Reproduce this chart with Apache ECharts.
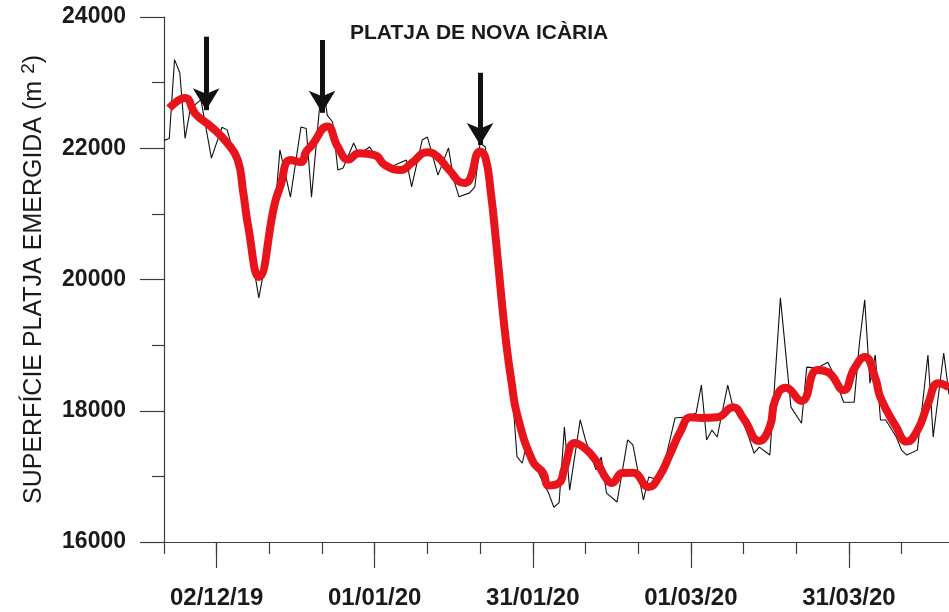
<!DOCTYPE html>
<html>
<head>
<meta charset="utf-8">
<script src="https://cdn.jsdelivr.net/npm/echarts@6/dist/echarts.min.js"></script>
<style>
  html, body { margin: 0; padding: 0; background: #fff; }
  #chart { width: 949px; height: 612px; }
</style>
</head>
<body>
<div id="chart"></div>
<script>
// eixos
const firstDay = '2019-11-22'
const lastDay = '2020-04-19'
const majorDates = ['2019-12-02', '2020-01-01', '2020-01-31', '2020-03-01', '2020-03-31']
const tickLabels = ['02/12/19', '01/01/20', '31/01/20', '01/03/20', '31/03/20']

// superficie diaria (linia negra)
const rawDates = [
  '2019-11-22', '2019-11-23', '2019-11-24', '2019-11-25', '2019-11-26', '2019-11-27', '2019-11-29',
  '2019-12-01', '2019-12-03', '2019-12-04', '2019-12-05', '2019-12-06', '2019-12-07', '2019-12-08',
  '2019-12-09', '2019-12-10', '2019-12-11', '2019-12-12', '2019-12-13', '2019-12-14', '2019-12-16',
  '2019-12-18', '2019-12-19', '2019-12-20', '2019-12-22', '2019-12-23', '2019-12-24', '2019-12-25',
  '2019-12-26', '2019-12-28', '2019-12-29', '2019-12-31', '2020-01-02', '2020-01-04', '2020-01-07',
  '2020-01-08', '2020-01-10', '2020-01-11', '2020-01-13', '2020-01-15', '2020-01-16', '2020-01-17',
  '2020-01-19', '2020-01-20', '2020-01-21', '2020-01-22', '2020-01-23', '2020-01-24', '2020-01-25',
  '2020-01-26', '2020-01-27', '2020-01-28', '2020-01-29', '2020-01-30', '2020-01-31', '2020-02-02',
  '2020-02-03', '2020-02-04', '2020-02-05', '2020-02-06', '2020-02-07', '2020-02-09', '2020-02-10',
  '2020-02-12', '2020-02-13', '2020-02-14', '2020-02-16', '2020-02-18', '2020-02-19', '2020-02-21',
  '2020-02-22', '2020-02-24', '2020-02-25', '2020-02-27', '2020-02-29', '2020-03-02', '2020-03-03',
  '2020-03-04', '2020-03-05', '2020-03-06', '2020-03-08', '2020-03-09', '2020-03-11', '2020-03-12',
  '2020-03-13', '2020-03-14', '2020-03-16', '2020-03-18', '2020-03-20', '2020-03-22', '2020-03-23',
  '2020-03-25', '2020-03-27', '2020-03-28', '2020-03-30', '2020-04-01', '2020-04-02', '2020-04-03',
  '2020-04-04', '2020-04-05', '2020-04-06', '2020-04-07', '2020-04-09', '2020-04-10', '2020-04-11',
  '2020-04-13', '2020-04-15', '2020-04-16', '2020-04-18', '2020-04-19'
]
const rawArea = [
  22120, 22150, 23350, 23150, 22150, 22600, 22740,
  21850, 22320, 22280, 21980, 21800, 21300, 20750,
  20200, 19720, 20150, 20500, 21000, 21975, 21255,
  22325, 22300, 21255, 23050, 22500, 22400, 21670,
  21700, 22080, 21900, 22020, 21790, 21715, 21820,
  21410, 22125, 22170, 21590, 22005, 21515, 21260,
  21320, 21410, 22080, 22020, 21300, 20600, 19800,
  18950, 18400, 17300, 17200, 17550, 17250, 16900,
  16745, 16530, 16600, 17750, 16790, 17860, 17555,
  17100, 17295, 16745, 16610, 17555, 17480, 16640,
  16990, 16945, 17200, 17890, 17905, 17965, 18390,
  17555, 17705, 17600, 18390, 18055, 17810, 17600,
  17355, 17445, 17325, 19720, 18055, 17810, 18665,
  18650, 18740, 18575, 18130, 18130, 19030, 19690,
  18420, 18850, 17860, 17860, 17600, 17400, 17325,
  17400, 18850, 17600, 18880, 18250
]

// mitjana mobil (linia vermella)
const smoothDates = [
  '2019-11-23', '2019-11-26', '2019-11-28', '2019-12-01', '2019-12-04', '2019-12-06', '2019-12-07',
  '2019-12-08', '2019-12-10', '2019-12-13', '2019-12-14', '2019-12-16', '2019-12-18', '2019-12-19',
  '2019-12-20', '2019-12-23', '2019-12-25', '2019-12-27', '2019-12-29', '2020-01-01', '2020-01-03',
  '2020-01-06', '2020-01-08', '2020-01-11', '2020-01-13', '2020-01-15', '2020-01-18', '2020-01-19',
  '2020-01-21', '2020-01-22', '2020-01-23', '2020-01-24', '2020-01-25', '2020-01-26', '2020-01-27',
  '2020-01-28', '2020-01-31', '2020-02-02', '2020-02-03', '2020-02-05', '2020-02-06', '2020-02-08',
  '2020-02-10', '2020-02-12', '2020-02-14', '2020-02-15', '2020-02-17', '2020-02-19', '2020-02-22',
  '2020-02-24', '2020-02-26', '2020-02-28', '2020-03-01', '2020-03-03', '2020-03-06', '2020-03-09',
  '2020-03-11', '2020-03-14', '2020-03-16', '2020-03-17', '2020-03-19', '2020-03-22', '2020-03-25',
  '2020-03-27', '2020-03-30', '2020-04-01', '2020-04-03', '2020-04-05', '2020-04-06', '2020-04-09',
  '2020-04-11', '2020-04-13', '2020-04-15', '2020-04-17', '2020-04-19'
]
const smoothArea = [
  22610, 22765, 22520, 22325, 22080, 21820, 21350,
  20800, 20040, 21150, 21400, 21820, 21790, 21950,
  22040, 22330, 22020, 21830, 21925, 21895, 21740,
  21670, 21775, 21940, 21865, 21680, 21470, 21520,
  21950, 21860, 21350, 20600, 19760, 19000, 18420,
  17950, 17230, 17050, 16860, 16900, 17120, 17510,
  17420, 17240, 16960, 16900, 17050, 17055, 16840,
  17000, 17330, 17680, 17900, 17890, 17900, 18055,
  17880, 17540, 17760, 18160, 18350, 18150, 18620,
  18590, 18315, 18640, 18820, 18500, 18200, 17750,
  17530, 17700, 18100, 18420, 18360
]

// fletxes
const arrowDates = ['2019-11-30', '2019-12-22', '2020-01-21']
const arrowTop = [23700, 23650, 23150]
const arrowTip = [22580, 22540, 22050]

// tots els dies de l'eix
const days = []
for (let t = Date.parse(firstDay); t <= Date.parse(lastDay); t += 86400000) {
  days.push(new Date(t).toISOString().slice(0, 10))
}

const font = 'Liberation Sans, Arial, sans-serif'
const axisColor = '#3c3c3c'

const chart = echarts.init(document.getElementById('chart'))
chart.setOption({
  animation: false,
  title: {
    text: 'PLATJA DE NOVA ICÀRIA',
    left: 345,
    top: 18,
    textStyle: { fontFamily: font, fontSize: 21, fontWeight: 'bold', color: '#1a1a1a' }
  },
  grid: { left: 164, right: 0, top: 17, bottom: 70 },
  xAxis: [
    {
      type: 'category',
      data: days,
      boundaryGap: false,
      position: 'bottom',
      axisLine: { lineStyle: { color: axisColor, width: 1.2 } },
      axisTick: { length: 12, interval: (i) => i % 10 === 0, lineStyle: { color: axisColor, width: 1.2 } },
      axisLabel: { show: false }
    },
    {
      type: 'category',
      data: days,
      boundaryGap: false,
      position: 'bottom',
      axisLine: { show: false },
      axisTick: { length: 26, interval: (i, v) => majorDates.includes(v), lineStyle: { color: axisColor, width: 1.2 } },
      axisLabel: {
        interval: (i, v) => majorDates.includes(v),
        formatter: (v) => tickLabels[majorDates.indexOf(v)],
        margin: 44,
        fontFamily: font,
        fontSize: 24,
        fontWeight: 'bold',
        color: '#1a1a1a'
      }
    }
  ],
  yAxis: {
    type: 'value',
    min: 16000,
    max: 24000,
    interval: 2000,
    name: '{t|SUPERFÍCIE PLATJA EMERGIDA (m }{s|2}{t|)}',
    nameLocation: 'middle',
    nameGap: 114,
    nameTextStyle: {
      rich: {
        t: { fontFamily: font, fontSize: 25, color: '#1a1a1a' },
        s: { fontFamily: font, fontSize: 19, color: '#1a1a1a', verticalAlign: 'top', padding: [0, 0, 12, 0] }
      }
    },
    splitLine: { show: false },
    axisLine: { show: true, lineStyle: { color: axisColor, width: 1.2 } },
    axisTick: { show: true, length: 24, lineStyle: { color: axisColor, width: 1.2 } },
    minorTick: { show: true, splitNumber: 2, length: 12, lineStyle: { color: axisColor, width: 1.2 } },
    axisLabel: {
      margin: 38,
      formatter: (v) => String(v),
      fontFamily: font,
      fontSize: 23,
      fontWeight: 'bold',
      color: '#1a1a1a'
    }
  },
  series: [
    {
      name: 'diari',
      type: 'line',
      data: rawDates.map((d, i) => [d, rawArea[i]]),
      showSymbol: false,
      lineStyle: { color: '#111', width: 1.1 },
      z: 2
    },
    {
      name: 'mitjana',
      type: 'line',
      data: smoothDates.map((d, i) => [d, smoothArea[i]]),
      showSymbol: false,
      smooth: 0.5,
      lineStyle: { color: '#e8141b', width: 8 },
      z: 3
    },
    {
      name: 'fletxes',
      type: 'line',
      data: [],
      z: 5,
      markLine: {
        silent: true,
        animation: false,
        symbol: ['none', 'arrow'],
        symbolSize: [20, 22],
        label: { show: false },
        lineStyle: { color: '#111', width: 5, type: 'solid' },
        data: arrowDates.map((d, i) => [
          { coord: [d, arrowTop[i]] },
          { coord: [d, arrowTip[i]] }
        ])
      }
    }
  ]
})
</script>
</body>
</html>
